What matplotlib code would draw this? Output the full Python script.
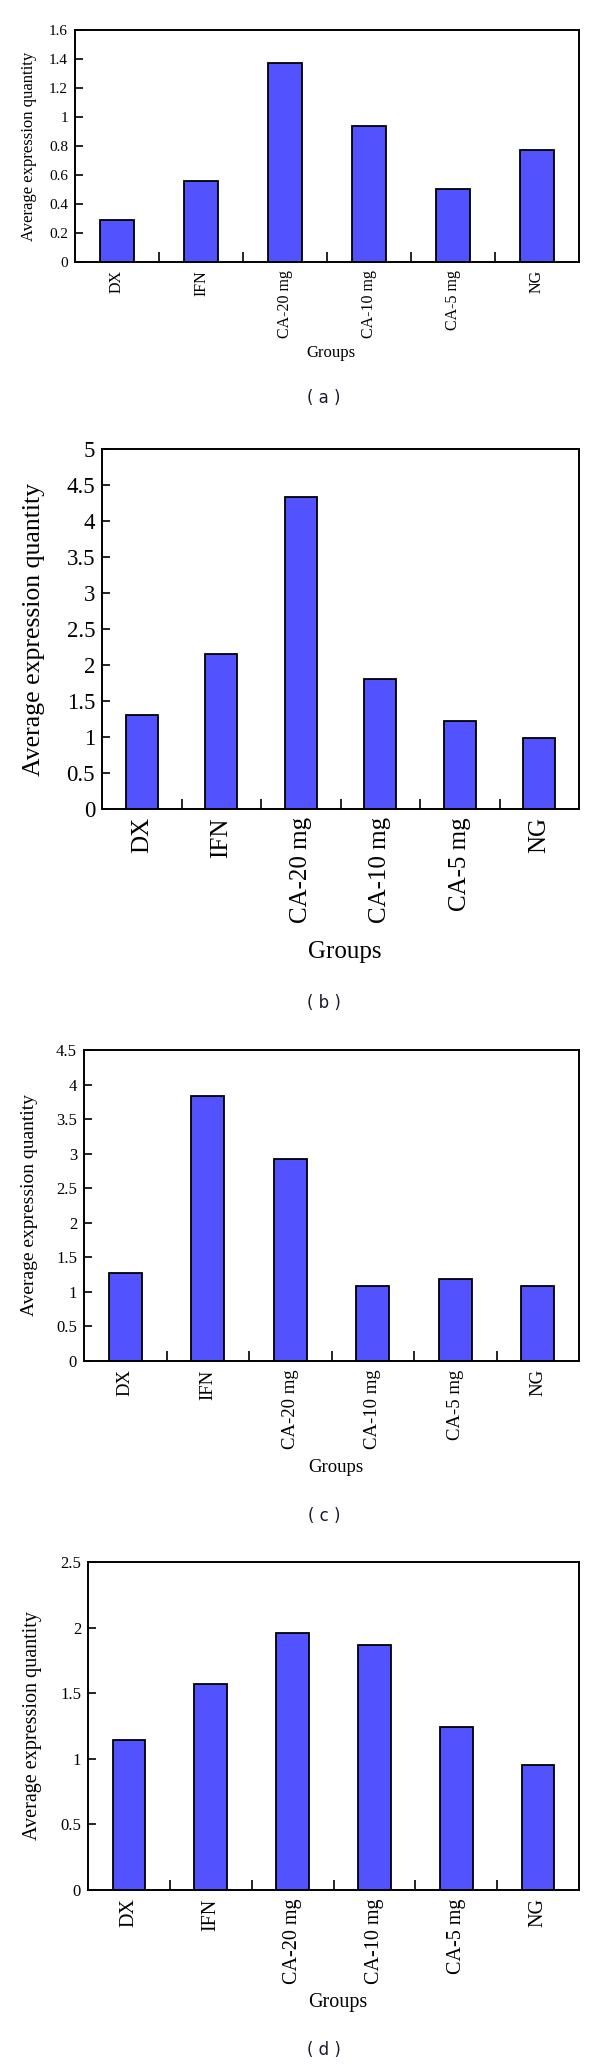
import numpy as np
import matplotlib
matplotlib.use("Agg")
import matplotlib.pyplot as plt
from matplotlib.ticker import FixedLocator, FuncFormatter

# ------------------------------------------------------------
# Dados
# ------------------------------------------------------------
groups = ["DX", "IFN", "CA-20 mg", "CA-10 mg", "CA-5 mg", "NG"]

values_a = [0.29, 0.56, 1.37, 0.94, 0.50, 0.77]
values_b = [1.31, 2.15, 4.34, 1.80, 1.22, 0.98]
values_c = [1.27, 3.83, 2.92, 1.09, 1.18, 1.09]
values_d = [1.14, 1.57, 1.96, 1.87, 1.24, 0.95]

ymax_a, ystep_a = 1.6, 0.2
ymax_b, ystep_b = 5.0, 0.5
ymax_c, ystep_c = 4.5, 0.5
ymax_d, ystep_d = 2.5, 0.5

captions = ["( a )", "( b )", "( c )", "( d )"]

W, H = 600, 2068
BAR_COLOR = "#5252ff"
SERIF = "Liberation Serif"


def fmt(v, _pos=None):
    return f"{round(v, 2):g}"


# ------------------------------------------------------------
# Um painel de barras (posicoes em pixels da figura)
# ------------------------------------------------------------
def draw_panel(fig, vals, ymax, ystep, box, sizes, ylab_x, xlab_y, cap_y, caption):
    x0, y0, x1, y1 = box
    ax = fig.add_axes([x0 / W, 1 - y1 / H, (x1 - x0) / W, (y1 - y0) / H])
    ytick_fs, xtick_fs, ylab_fs, xlab_fs = sizes

    pos = np.arange(len(groups))
    ax.bar(pos, vals, width=0.4, color=BAR_COLOR, edgecolor="black",
           linewidth=1.3, zorder=2)

    ax.set_xlim(-0.5, len(groups) - 0.5)
    ax.set_ylim(0, ymax)

    # eixo y
    yt = np.arange(0, ymax + ystep / 2, ystep)
    ax.yaxis.set_major_locator(FixedLocator(yt))
    ax.yaxis.set_major_formatter(FuncFormatter(fmt))
    ax.tick_params(axis="y", direction="in", length=6, width=1.2,
                   labelsize=ytick_fs, pad=5, right=False)

    # eixo x: rotulos no centro, marcas entre grupos
    ax.set_xticks(pos)
    ax.set_xticklabels(groups, rotation=90, fontsize=xtick_fs, family=SERIF)
    ax.set_xticks(pos[:-1] + 0.5, minor=True)
    ax.tick_params(axis="x", which="major", length=0, pad=6)
    ax.tick_params(axis="x", which="minor", direction="in", length=7,
                   width=1.2, top=False)
    for lab in ax.get_yticklabels():
        lab.set_family(SERIF)

    for s in ax.spines.values():
        s.set_linewidth(1.4)

    ymid = (y0 + y1) / 2
    xmid = (x0 + x1) / 2
    fig.text(ylab_x / W, 1 - ymid / H, "Average expression quantity",
             rotation=90, ha="center", va="center", fontsize=ylab_fs,
             family=SERIF)
    fig.text((xmid + 4) / W, 1 - xlab_y / H, "Groups", ha="center",
             va="center", fontsize=xlab_fs, family=SERIF)
    fig.text(324 / W, 1 - cap_y / H, caption, ha="center", va="center",
             fontsize=12, family="DejaVu Sans", color="#1a1a2e")
    return ax


def main():
    fig = plt.figure(figsize=(W / 100, H / 100), dpi=100)
    fig.patch.set_facecolor("white")

    draw_panel(fig, values_a, ymax_a, ystep_a, (75, 30, 579, 262),
               (11, 11.5, 12, 12), 29, 353, 398, captions[0])
    draw_panel(fig, values_b, ymax_b, ystep_b, (102, 449, 579, 809),
               (16.5, 18, 18.5, 18), 34, 952, 1003, captions[1])
    draw_panel(fig, values_c, ymax_c, ystep_c, (84, 1050, 579, 1361),
               (12, 13.5, 14, 13.5), 30, 1468, 1516, captions[2])
    draw_panel(fig, values_d, ymax_d, ystep_d, (88, 1562, 579, 1890),
               (12, 14.5, 14.5, 14.5), 33, 2002, 2050, captions[3])

    fig.savefig("out.png", dpi=100, facecolor="white")


if __name__ == "__main__":
    main()
